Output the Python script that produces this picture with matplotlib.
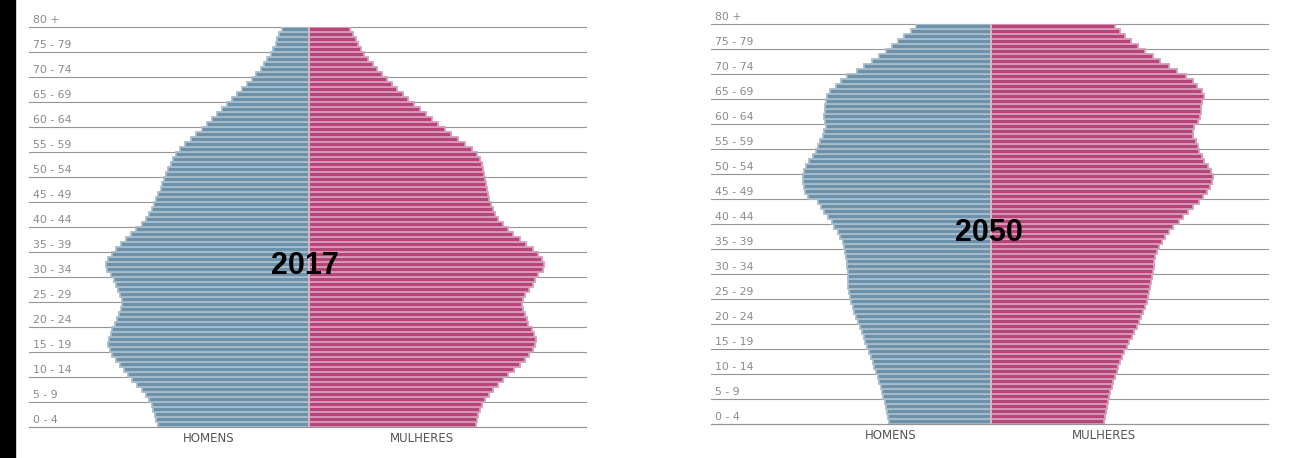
import numpy as np
import matplotlib.pyplot as plt
from matplotlib.patches import Rectangle

# idades simples 0..79 (barras de 1 ano)
idades = np.arange(80)
faixas = ['0 - 4', '5 - 9', '10 - 14', '15 - 19', '20 - 24', '25 - 29', '30 - 34',
          '35 - 39', '40 - 44', '45 - 49', '50 - 54', '55 - 59', '60 - 64',
          '65 - 69', '70 - 74', '75 - 79', '80 +']

homens_2017 = [151, 153, 154, 156, 157, 160, 163, 167, 172, 177,
               181, 185, 189, 193, 197, 199, 201, 200, 198, 197,
               194, 192, 190, 188, 187, 187, 189, 191, 193, 195,
               198, 202, 203, 201, 197, 193, 188, 183, 178, 173,
               167, 163, 160, 157, 155, 153, 151, 148, 147, 145,
               143, 141, 138, 136, 133, 129, 124, 118, 113, 107,
               102, 97, 92, 87, 82, 77, 72, 67, 62, 57,
               53, 48, 45, 42, 38, 36, 33, 32, 30, 27]
mulheres_2017 = [167, 168, 169, 171, 173, 176, 180, 184, 189, 194,
                 199, 205, 211, 216, 220, 224, 226, 227, 225, 223,
                 219, 218, 216, 214, 213, 214, 216, 220, 224, 226,
                 229, 234, 235, 233, 229, 224, 217, 211, 204, 199,
                 194, 189, 186, 184, 182, 180, 179, 178, 177, 176,
                 175, 174, 173, 171, 168, 163, 156, 149, 142, 136,
                 129, 123, 117, 111, 105, 99, 94, 88, 83, 78,
                 73, 68, 64, 59, 55, 52, 49, 47, 44, 41]
homens_2050 = [102, 103, 104, 105, 106, 108, 109, 110, 112, 113,
               115, 117, 118, 120, 122, 124, 126, 127, 129, 131,
               133, 135, 137, 138, 140, 141, 142, 143, 143, 143,
               143, 144, 144, 145, 146, 147, 148, 151, 153, 157,
               159, 163, 167, 170, 173, 183, 186, 187, 188, 188,
               187, 185, 182, 178, 175, 173, 171, 168, 167, 165,
               166, 167, 166, 166, 165, 164, 161, 155, 150, 144,
               134, 127, 119, 112, 105, 99, 93, 87, 80, 75]
mulheres_2050 = [113, 114, 115, 116, 117, 118, 119, 121, 122, 124,
                 126, 127, 129, 131, 133, 136, 138, 141, 143, 146,
                 148, 150, 152, 154, 156, 157, 158, 159, 160, 161,
                 162, 163, 163, 164, 166, 168, 171, 174, 178, 182,
                 188, 192, 197, 202, 208, 212, 216, 219, 221, 222,
                 220, 217, 213, 211, 208, 207, 205, 202, 202, 203,
                 207, 209, 210, 210, 211, 213, 211, 206, 202, 195,
                 186, 178, 169, 162, 154, 147, 140, 134, 129, 124]

W, H = 1292, 458
fig = plt.figure(figsize=(W / 100, H / 100), dpi=100)
fig.add_artist(Rectangle((0, 0), 15 / W, 1, transform=fig.transFigure,
                         color='black', zorder=0))


def piramide(rect, homens, mulheres, ano, pos_ano):
    ax = fig.add_axes(rect)
    ax.set_xlim(-280, 277)
    ax.set_ylim(0, 80)
    ax.axis('off')

    for k, lab in enumerate(faixas):
        y = 5 * k
        ax.axhline(y, color='#959595', lw=0.8, zorder=1, clip_on=False)
        ax.text(-276, y + 1.35, lab, fontsize=7.8, color='#8a8a8a',
                va='center', ha='left', clip_on=False)

    ax.barh(idades + 0.5, -np.array(homens), height=1, color='#6c91ab',
            edgecolor='#a9bdcb', linewidth=1.3, zorder=2)
    ax.barh(idades + 0.5, mulheres, height=1, color='#b8457a',
            edgecolor='#d69cba', linewidth=1.3, zorder=2)
    ax.axvline(0, color='#c4c4c4', lw=1.2, zorder=3)
    # linha de base visivel sob as barras
    ax.axhline(0, color='#959595', lw=0.8, zorder=4, clip_on=False)

    ax.text(pos_ano[0], pos_ano[1], ano, fontsize=22, fontweight='bold',
            family='Liberation Sans', ha='center', va='center', zorder=5)
    ax.text(-100, -2.3, 'HOMENS', fontsize=8.5, color='#555555',
            ha='center', va='center', clip_on=False)
    ax.text(113, -2.3, 'MULHERES', fontsize=8.5, color='#555555',
            ha='center', va='center', clip_on=False)
    return ax


piramide([29 / W, (H - 426.5) / H, 557 / W, 400 / H],
         homens_2017, mulheres_2017, '2017', (-4.5, 32.2))
piramide([711 / W, (H - 424) / H, 557 / W, 400 / H],
         homens_2050, mulheres_2050, '2050', (-2, 38.1))

plt.savefig('out.png', dpi=100)
